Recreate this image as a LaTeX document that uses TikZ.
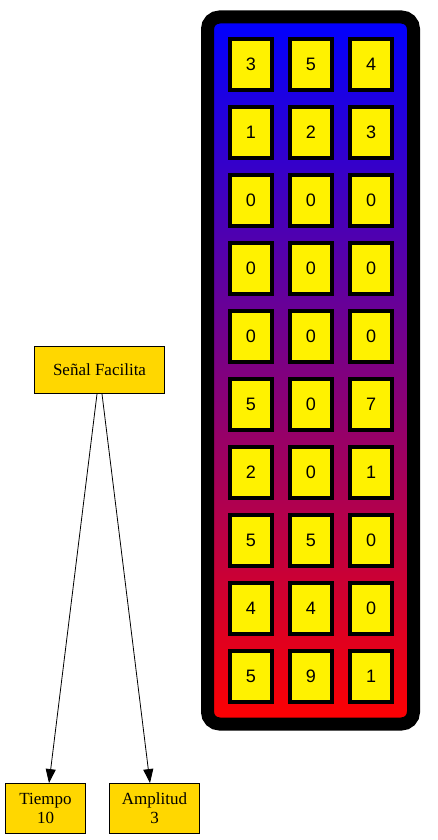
\documentclass[tikz,border=0pt]{standalone}
\usepackage{fontspec}
\setmainfont{Liberation Serif}
\setsansfont{Liberation Sans}
\usepackage{xcolor}
\usetikzlibrary{positioning, calc, shapes, arrows, arrows.meta, fit}
\definecolor{goldbox}{RGB}{255,215,0}
\tikzset{
	fieldbox/.style={draw=black, line width=0.9pt, fill=goldbox, align=center,
		inner sep=0pt, font=\fontsize{17}{19}\selectfont},
	cellbox/.style={draw=black, line width=4pt, fill=yellow, inner sep=0pt,
		minimum width=42pt, minimum height=51pt, font=\sffamily\fontsize{18}{20}\selectfont},
	traybox/.style={draw=black, line width=13pt, rounded corners=12pt,
		top color=blue, bottom color=red, minimum width=206pt, minimum height=707pt},
	edgearrow/.style={-{Stealth[length=14pt, width=10pt, inset=0pt]}, line width=0.8pt}
}

\begin{document}
\begin{tikzpicture}[x=1pt, y=-1pt]
\useasboundingbox (0,0) rectangle (437,840);

% the array of values
\node[traybox] (tray) at (310.5,370.5) {};
\foreach \a/\b/\c [count=\r] in {3/5/4, 1/2/3, 0/0/0, 0/0/0, 0/0/0, 5/0/7, 2/0/1, 5/5/0, 4/4/0, 5/9/1} {
	\node[cellbox] (c\r-1) at (251, 64.5+68*\r-68) {\a};
	\node[cellbox] (c\r-2) at (311, 64.5+68*\r-68) {\b};
	\node[cellbox] (c\r-3) at (371, 64.5+68*\r-68) {\c};
}

% the record and its fields
\node[fieldbox, minimum width=130pt, minimum height=47pt] (senal) at (99.5,370) {Señal Facilita};
\node[fieldbox, minimum width=80pt, minimum height=50pt] (tiempo) at (45.5,808.5) {Tiempo\\10};
\node[fieldbox, minimum width=90pt, minimum height=50pt] (amplitud) at (154.5,808.5) {Amplitud\\3};

\draw[edgearrow] ([xshift=-2.5pt]senal.south) -- ([xshift=3.5pt]tiempo.north);
\draw[edgearrow] ([xshift=2.5pt]senal.south) -- ([xshift=-4.5pt]amplitud.north);
\end{tikzpicture}
\end{document}
